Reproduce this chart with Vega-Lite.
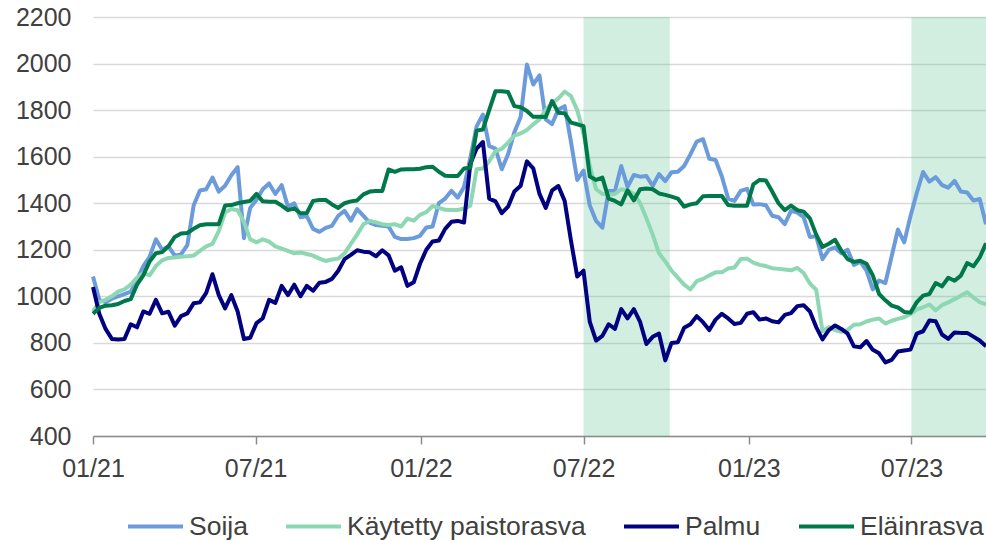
{
  "$schema": "https://vega.github.io/schema/vega-lite/v6.json",
  "width": 893,
  "height": 419,
  "autosize": {"type": "none"},
  "padding": {"left": 93, "top": 17, "right": 0, "bottom": 105},
  "background": "white",
  "config": {
    "view": {"stroke": null},
    "font": "Liberation Sans",
    "axis": {"labelFont": "Liberation Sans", "labelColor": "#404040", "labelFontSize": 25, "title": null},
    "legend": {"labelFont": "Liberation Sans"}
  },
  "datasets": {
    "shade": [
      {"start": "2022-07-01", "end": "2022-10-05"},
      {"start": "2023-07-01", "end": "2023-09-22"}
    ],
    "prices": [
      {"pvm":"2021-01-01","Soija":1085,"Käytetty paistorasva":935,"Palmu":1040,"Eläinrasva":925},
      {"pvm":"2021-01-08","Soija":985,"Käytetty paistorasva":975,"Palmu":925,"Eläinrasva":950},
      {"pvm":"2021-01-15","Soija":975,"Käytetty paistorasva":985,"Palmu":860,"Eläinrasva":960},
      {"pvm":"2021-01-22","Soija":990,"Käytetty paistorasva":1000,"Palmu":817,"Eläinrasva":962},
      {"pvm":"2021-01-29","Soija":1000,"Käytetty paistorasva":1020,"Palmu":815,"Eläinrasva":967},
      {"pvm":"2021-02-05","Soija":1010,"Käytetty paistorasva":1030,"Palmu":817,"Eläinrasva":980},
      {"pvm":"2021-02-12","Soija":1020,"Käytetty paistorasva":1050,"Palmu":880,"Eläinrasva":988},
      {"pvm":"2021-02-19","Soija":1070,"Käytetty paistorasva":1080,"Palmu":867,"Eläinrasva":1050},
      {"pvm":"2021-02-26","Soija":1130,"Käytetty paistorasva":1100,"Palmu":935,"Eläinrasva":1090},
      {"pvm":"2021-03-05","Soija":1170,"Käytetty paistorasva":1090,"Palmu":925,"Eläinrasva":1150},
      {"pvm":"2021-03-12","Soija":1245,"Käytetty paistorasva":1130,"Palmu":985,"Eläinrasva":1185},
      {"pvm":"2021-03-19","Soija":1200,"Käytetty paistorasva":1155,"Palmu":927,"Eläinrasva":1190},
      {"pvm":"2021-03-26","Soija":1215,"Käytetty paistorasva":1165,"Palmu":934,"Eläinrasva":1215},
      {"pvm":"2021-04-02","Soija":1175,"Käytetty paistorasva":1167,"Palmu":874,"Eläinrasva":1255},
      {"pvm":"2021-04-09","Soija":1180,"Käytetty paistorasva":1170,"Palmu":915,"Eläinrasva":1270},
      {"pvm":"2021-04-16","Soija":1220,"Käytetty paistorasva":1172,"Palmu":927,"Eläinrasva":1272},
      {"pvm":"2021-04-23","Soija":1390,"Käytetty paistorasva":1175,"Palmu":970,"Eläinrasva":1290},
      {"pvm":"2021-04-30","Soija":1455,"Käytetty paistorasva":1195,"Palmu":974,"Eläinrasva":1305},
      {"pvm":"2021-05-07","Soija":1460,"Käytetty paistorasva":1215,"Palmu":1015,"Eläinrasva":1310},
      {"pvm":"2021-05-14","Soija":1510,"Käytetty paistorasva":1225,"Palmu":1095,"Eläinrasva":1310},
      {"pvm":"2021-05-21","Soija":1450,"Käytetty paistorasva":1280,"Palmu":1005,"Eläinrasva":1310},
      {"pvm":"2021-05-28","Soija":1475,"Käytetty paistorasva":1360,"Palmu":948,"Eläinrasva":1390},
      {"pvm":"2021-06-04","Soija":1520,"Käytetty paistorasva":1375,"Palmu":1005,"Eläinrasva":1392},
      {"pvm":"2021-06-11","Soija":1555,"Käytetty paistorasva":1370,"Palmu":935,"Eläinrasva":1400},
      {"pvm":"2021-06-18","Soija":1250,"Käytetty paistorasva":1320,"Palmu":817,"Eläinrasva":1405},
      {"pvm":"2021-06-25","Soija":1380,"Käytetty paistorasva":1245,"Palmu":822,"Eläinrasva":1410},
      {"pvm":"2021-07-02","Soija":1415,"Käytetty paistorasva":1232,"Palmu":885,"Eläinrasva":1440},
      {"pvm":"2021-07-09","Soija":1460,"Käytetty paistorasva":1245,"Palmu":906,"Eläinrasva":1408},
      {"pvm":"2021-07-16","Soija":1485,"Käytetty paistorasva":1235,"Palmu":985,"Eläinrasva":1406},
      {"pvm":"2021-07-23","Soija":1440,"Käytetty paistorasva":1215,"Palmu":972,"Eläinrasva":1406},
      {"pvm":"2021-07-30","Soija":1478,"Käytetty paistorasva":1205,"Palmu":1045,"Eläinrasva":1390},
      {"pvm":"2021-08-06","Soija":1385,"Käytetty paistorasva":1195,"Palmu":1005,"Eläinrasva":1370},
      {"pvm":"2021-08-13","Soija":1400,"Käytetty paistorasva":1185,"Palmu":1050,"Eläinrasva":1378},
      {"pvm":"2021-08-20","Soija":1340,"Käytetty paistorasva":1188,"Palmu":1000,"Eläinrasva":1357},
      {"pvm":"2021-08-27","Soija":1345,"Käytetty paistorasva":1182,"Palmu":1045,"Eläinrasva":1358},
      {"pvm":"2021-09-03","Soija":1290,"Käytetty paistorasva":1175,"Palmu":1024,"Eläinrasva":1410},
      {"pvm":"2021-09-10","Soija":1277,"Käytetty paistorasva":1162,"Palmu":1058,"Eläinrasva":1414},
      {"pvm":"2021-09-17","Soija":1294,"Käytetty paistorasva":1152,"Palmu":1062,"Eläinrasva":1414},
      {"pvm":"2021-09-24","Soija":1303,"Käytetty paistorasva":1158,"Palmu":1075,"Eläinrasva":1395},
      {"pvm":"2021-10-01","Soija":1346,"Käytetty paistorasva":1162,"Palmu":1110,"Eläinrasva":1380},
      {"pvm":"2021-10-08","Soija":1367,"Käytetty paistorasva":1185,"Palmu":1160,"Eläinrasva":1400},
      {"pvm":"2021-10-15","Soija":1325,"Käytetty paistorasva":1225,"Palmu":1178,"Eläinrasva":1408},
      {"pvm":"2021-10-22","Soija":1375,"Käytetty paistorasva":1265,"Palmu":1198,"Eläinrasva":1412},
      {"pvm":"2021-10-29","Soija":1346,"Käytetty paistorasva":1310,"Palmu":1192,"Eläinrasva":1438},
      {"pvm":"2021-11-05","Soija":1317,"Käytetty paistorasva":1324,"Palmu":1189,"Eläinrasva":1450},
      {"pvm":"2021-11-12","Soija":1306,"Käytetty paistorasva":1318,"Palmu":1172,"Eläinrasva":1452},
      {"pvm":"2021-11-19","Soija":1303,"Käytetty paistorasva":1310,"Palmu":1198,"Eläinrasva":1453},
      {"pvm":"2021-11-26","Soija":1300,"Käytetty paistorasva":1306,"Palmu":1176,"Eläinrasva":1545},
      {"pvm":"2021-12-03","Soija":1255,"Käytetty paistorasva":1310,"Palmu":1110,"Eläinrasva":1535},
      {"pvm":"2021-12-10","Soija":1246,"Käytetty paistorasva":1300,"Palmu":1125,"Eläinrasva":1545},
      {"pvm":"2021-12-17","Soija":1246,"Käytetty paistorasva":1334,"Palmu":1045,"Eläinrasva":1546},
      {"pvm":"2021-12-24","Soija":1250,"Käytetty paistorasva":1325,"Palmu":1060,"Eläinrasva":1546},
      {"pvm":"2021-12-31","Soija":1260,"Käytetty paistorasva":1350,"Palmu":1140,"Eläinrasva":1548},
      {"pvm":"2022-01-07","Soija":1296,"Käytetty paistorasva":1362,"Palmu":1200,"Eläinrasva":1555},
      {"pvm":"2022-01-14","Soija":1300,"Käytetty paistorasva":1388,"Palmu":1236,"Eläinrasva":1557},
      {"pvm":"2022-01-21","Soija":1400,"Käytetty paistorasva":1380,"Palmu":1240,"Eläinrasva":1535},
      {"pvm":"2022-01-28","Soija":1420,"Käytetty paistorasva":1372,"Palmu":1290,"Eläinrasva":1518},
      {"pvm":"2022-02-04","Soija":1453,"Käytetty paistorasva":1371,"Palmu":1320,"Eläinrasva":1517},
      {"pvm":"2022-02-11","Soija":1424,"Käytetty paistorasva":1371,"Palmu":1324,"Eläinrasva":1517},
      {"pvm":"2022-02-18","Soija":1470,"Käytetty paistorasva":1377,"Palmu":1317,"Eläinrasva":1549},
      {"pvm":"2022-02-25","Soija":1595,"Käytetty paistorasva":1389,"Palmu":1570,"Eläinrasva":1553},
      {"pvm":"2022-03-04","Soija":1730,"Käytetty paistorasva":1546,"Palmu":1635,"Eläinrasva":1712},
      {"pvm":"2022-03-11","Soija":1781,"Käytetty paistorasva":1549,"Palmu":1663,"Eläinrasva":1717},
      {"pvm":"2022-03-18","Soija":1645,"Käytetty paistorasva":1580,"Palmu":1420,"Eläinrasva":1800},
      {"pvm":"2022-03-25","Soija":1635,"Käytetty paistorasva":1624,"Palmu":1408,"Eläinrasva":1881},
      {"pvm":"2022-04-01","Soija":1546,"Käytetty paistorasva":1634,"Palmu":1357,"Eläinrasva":1881},
      {"pvm":"2022-04-08","Soija":1610,"Käytetty paistorasva":1660,"Palmu":1385,"Eläinrasva":1878},
      {"pvm":"2022-04-15","Soija":1705,"Käytetty paistorasva":1690,"Palmu":1450,"Eläinrasva":1817},
      {"pvm":"2022-04-22","Soija":1770,"Käytetty paistorasva":1700,"Palmu":1475,"Eläinrasva":1812},
      {"pvm":"2022-04-29","Soija":1996,"Käytetty paistorasva":1715,"Palmu":1580,"Eläinrasva":1796},
      {"pvm":"2022-05-06","Soija":1910,"Käytetty paistorasva":1739,"Palmu":1550,"Eläinrasva":1771},
      {"pvm":"2022-05-13","Soija":1949,"Käytetty paistorasva":1760,"Palmu":1440,"Eläinrasva":1771},
      {"pvm":"2022-05-20","Soija":1760,"Käytetty paistorasva":1800,"Palmu":1380,"Eläinrasva":1770},
      {"pvm":"2022-05-27","Soija":1740,"Käytetty paistorasva":1830,"Palmu":1455,"Eläinrasva":1839},
      {"pvm":"2022-06-03","Soija":1803,"Käytetty paistorasva":1850,"Palmu":1474,"Eläinrasva":1789},
      {"pvm":"2022-06-10","Soija":1817,"Käytetty paistorasva":1880,"Palmu":1410,"Eläinrasva":1786},
      {"pvm":"2022-06-17","Soija":1665,"Käytetty paistorasva":1860,"Palmu":1240,"Eläinrasva":1746},
      {"pvm":"2022-06-24","Soija":1500,"Käytetty paistorasva":1800,"Palmu":1085,"Eläinrasva":1739},
      {"pvm":"2022-07-01","Soija":1540,"Käytetty paistorasva":1700,"Palmu":1110,"Eläinrasva":1731},
      {"pvm":"2022-07-08","Soija":1390,"Käytetty paistorasva":1560,"Palmu":890,"Eläinrasva":1515},
      {"pvm":"2022-07-15","Soija":1324,"Käytetty paistorasva":1460,"Palmu":810,"Eläinrasva":1500},
      {"pvm":"2022-07-22","Soija":1295,"Käytetty paistorasva":1440,"Palmu":830,"Eläinrasva":1510},
      {"pvm":"2022-07-29","Soija":1453,"Käytetty paistorasva":1439,"Palmu":880,"Eläinrasva":1420},
      {"pvm":"2022-08-05","Soija":1453,"Käytetty paistorasva":1440,"Palmu":860,"Eläinrasva":1410},
      {"pvm":"2022-08-12","Soija":1560,"Käytetty paistorasva":1460,"Palmu":945,"Eläinrasva":1395},
      {"pvm":"2022-08-19","Soija":1470,"Käytetty paistorasva":1455,"Palmu":905,"Eläinrasva":1455},
      {"pvm":"2022-08-26","Soija":1521,"Käytetty paistorasva":1440,"Palmu":945,"Eläinrasva":1412},
      {"pvm":"2022-09-02","Soija":1514,"Käytetty paistorasva":1400,"Palmu":890,"Eläinrasva":1460},
      {"pvm":"2022-09-09","Soija":1517,"Käytetty paistorasva":1335,"Palmu":795,"Eläinrasva":1463},
      {"pvm":"2022-09-16","Soija":1474,"Käytetty paistorasva":1265,"Palmu":826,"Eläinrasva":1460},
      {"pvm":"2022-09-23","Soija":1525,"Käytetty paistorasva":1185,"Palmu":840,"Eläinrasva":1442},
      {"pvm":"2022-09-30","Soija":1495,"Käytetty paistorasva":1150,"Palmu":725,"Eläinrasva":1436},
      {"pvm":"2022-10-07","Soija":1533,"Käytetty paistorasva":1110,"Palmu":800,"Eläinrasva":1428},
      {"pvm":"2022-10-14","Soija":1535,"Käytetty paistorasva":1080,"Palmu":803,"Eläinrasva":1420},
      {"pvm":"2022-10-21","Soija":1560,"Käytetty paistorasva":1050,"Palmu":865,"Eläinrasva":1385},
      {"pvm":"2022-10-28","Soija":1610,"Käytetty paistorasva":1030,"Palmu":880,"Eläinrasva":1395},
      {"pvm":"2022-11-04","Soija":1665,"Käytetty paistorasva":1065,"Palmu":915,"Eläinrasva":1400},
      {"pvm":"2022-11-11","Soija":1675,"Käytetty paistorasva":1075,"Palmu":889,"Eläinrasva":1430},
      {"pvm":"2022-11-18","Soija":1591,"Käytetty paistorasva":1090,"Palmu":855,"Eläinrasva":1431},
      {"pvm":"2022-11-25","Soija":1586,"Käytetty paistorasva":1103,"Palmu":900,"Eläinrasva":1431},
      {"pvm":"2022-12-02","Soija":1515,"Käytetty paistorasva":1103,"Palmu":925,"Eläinrasva":1431},
      {"pvm":"2022-12-09","Soija":1420,"Käytetty paistorasva":1120,"Palmu":905,"Eläinrasva":1392},
      {"pvm":"2022-12-16","Soija":1410,"Käytetty paistorasva":1124,"Palmu":881,"Eläinrasva":1389},
      {"pvm":"2022-12-23","Soija":1453,"Käytetty paistorasva":1160,"Palmu":886,"Eläinrasva":1389},
      {"pvm":"2022-12-30","Soija":1462,"Käytetty paistorasva":1162,"Palmu":925,"Eläinrasva":1389},
      {"pvm":"2023-01-06","Soija":1395,"Käytetty paistorasva":1145,"Palmu":932,"Eläinrasva":1481},
      {"pvm":"2023-01-13","Soija":1396,"Käytetty paistorasva":1135,"Palmu":900,"Eläinrasva":1500},
      {"pvm":"2023-01-20","Soija":1391,"Käytetty paistorasva":1130,"Palmu":905,"Eläinrasva":1498},
      {"pvm":"2023-01-27","Soija":1346,"Käytetty paistorasva":1121,"Palmu":893,"Eläinrasva":1450},
      {"pvm":"2023-02-03","Soija":1340,"Käytetty paistorasva":1118,"Palmu":888,"Eläinrasva":1400},
      {"pvm":"2023-02-10","Soija":1310,"Käytetty paistorasva":1115,"Palmu":920,"Eläinrasva":1370},
      {"pvm":"2023-02-17","Soija":1367,"Käytetty paistorasva":1112,"Palmu":928,"Eläinrasva":1390},
      {"pvm":"2023-02-24","Soija":1360,"Käytetty paistorasva":1122,"Palmu":958,"Eläinrasva":1370},
      {"pvm":"2023-03-03","Soija":1340,"Käytetty paistorasva":1100,"Palmu":962,"Eläinrasva":1364},
      {"pvm":"2023-03-10","Soija":1255,"Käytetty paistorasva":1055,"Palmu":935,"Eläinrasva":1335},
      {"pvm":"2023-03-17","Soija":1258,"Käytetty paistorasva":1028,"Palmu":868,"Eläinrasva":1265},
      {"pvm":"2023-03-24","Soija":1160,"Käytetty paistorasva":850,"Palmu":815,"Eläinrasva":1212},
      {"pvm":"2023-03-31","Soija":1200,"Käytetty paistorasva":868,"Palmu":855,"Eläinrasva":1226},
      {"pvm":"2023-04-07","Soija":1210,"Käytetty paistorasva":855,"Palmu":875,"Eläinrasva":1243},
      {"pvm":"2023-04-14","Soija":1185,"Käytetty paistorasva":848,"Palmu":860,"Eläinrasva":1196},
      {"pvm":"2023-04-21","Soija":1200,"Käytetty paistorasva":855,"Palmu":840,"Eläinrasva":1160},
      {"pvm":"2023-04-28","Soija":1135,"Käytetty paistorasva":878,"Palmu":785,"Eläinrasva":1148},
      {"pvm":"2023-05-05","Soija":1149,"Käytetty paistorasva":880,"Palmu":781,"Eläinrasva":1153},
      {"pvm":"2023-05-12","Soija":1110,"Käytetty paistorasva":892,"Palmu":808,"Eläinrasva":1140},
      {"pvm":"2023-05-19","Soija":1030,"Käytetty paistorasva":900,"Palmu":770,"Eläinrasva":1090},
      {"pvm":"2023-05-26","Soija":1068,"Käytetty paistorasva":905,"Palmu":755,"Eläinrasva":1010},
      {"pvm":"2023-06-02","Soija":1057,"Käytetty paistorasva":883,"Palmu":716,"Eläinrasva":983},
      {"pvm":"2023-06-09","Soija":1172,"Käytetty paistorasva":895,"Palmu":727,"Eläinrasva":960},
      {"pvm":"2023-06-16","Soija":1287,"Käytetty paistorasva":903,"Palmu":763,"Eläinrasva":952},
      {"pvm":"2023-06-23","Soija":1232,"Käytetty paistorasva":910,"Palmu":767,"Eläinrasva":933},
      {"pvm":"2023-06-30","Soija":1345,"Käytetty paistorasva":924,"Palmu":771,"Eläinrasva":930},
      {"pvm":"2023-07-07","Soija":1445,"Käytetty paistorasva":944,"Palmu":840,"Eläinrasva":975},
      {"pvm":"2023-07-14","Soija":1534,"Käytetty paistorasva":953,"Palmu":850,"Eläinrasva":1003},
      {"pvm":"2023-07-21","Soija":1493,"Käytetty paistorasva":965,"Palmu":896,"Eläinrasva":1010},
      {"pvm":"2023-07-28","Soija":1512,"Käytetty paistorasva":940,"Palmu":893,"Eläinrasva":1057},
      {"pvm":"2023-08-04","Soija":1478,"Käytetty paistorasva":962,"Palmu":836,"Eläinrasva":1043},
      {"pvm":"2023-08-11","Soija":1467,"Käytetty paistorasva":974,"Palmu":817,"Eläinrasva":1080},
      {"pvm":"2023-08-18","Soija":1496,"Käytetty paistorasva":988,"Palmu":845,"Eläinrasva":1067},
      {"pvm":"2023-08-25","Soija":1450,"Käytetty paistorasva":1003,"Palmu":843,"Eläinrasva":1089},
      {"pvm":"2023-09-01","Soija":1446,"Käytetty paistorasva":1017,"Palmu":843,"Eläinrasva":1143},
      {"pvm":"2023-09-08","Soija":1412,"Käytetty paistorasva":995,"Palmu":827,"Eläinrasva":1129},
      {"pvm":"2023-09-15","Soija":1418,"Käytetty paistorasva":975,"Palmu":810,"Eläinrasva":1167},
      {"pvm":"2023-09-22","Soija":1310,"Käytetty paistorasva":965,"Palmu":786,"Eläinrasva":1228}
    ]
  },
  "layer": [
    {
      "data": {"name": "shade", "format": {"parse": {"start": "date:'%Y-%m-%d'", "end": "date:'%Y-%m-%d'"}}},
      "mark": {"type": "rect", "color": "#4DBF8A", "opacity": 0.26},
      "encoding": {
        "x": {"field": "start", "type": "temporal"},
        "x2": {"field": "end"}
      }
    },
    {
      "data": {"name": "prices", "format": {"parse": {"pvm": "date:'%Y-%m-%d'"}}},
      "transform": [
        {"fold": ["Soija", "Käytetty paistorasva", "Palmu", "Eläinrasva"], "as": ["sarja", "hinta"]}
      ],
      "mark": {"type": "line", "strokeWidth": 4, "strokeJoin": "round"},
      "encoding": {
        "x": {
          "field": "pvm",
          "type": "temporal",
          "scale": {"domain": [{"year": 2021, "month": 1, "date": 1}, {"year": 2023, "month": 9, "date": 22}], "nice": false},
          "axis": {
            "format": "%m/%y",
            "tickCount": {"interval": "month", "step": 6},
            "grid": false,
            "domainColor": "#8C8C8C",
            "domainWidth": 1.5,
            "tickColor": "#8C8C8C",
            "tickWidth": 1.5,
            "tickSize": 8,
            "labelPadding": 12,
            "labelFlush": false,
            "labelOverlap": false
          }
        },
        "y": {
          "field": "hinta",
          "type": "quantitative",
          "scale": {"domain": [400, 2200], "nice": false, "zero": false},
          "axis": {
            "values": [400, 600, 800, 1000, 1200, 1400, 1600, 1800, 2000, 2200],
            "format": "d",
            "grid": true,
            "gridColor": "#D9D9D9",
            "gridWidth": 1.3,
            "domain": false,
            "ticks": false,
            "labelPadding": 22
          }
        },
        "color": {
          "field": "sarja",
          "type": "nominal",
          "scale": {
            "domain": ["Soija", "Käytetty paistorasva", "Palmu", "Eläinrasva"],
            "range": ["#6B9BDB", "#8DD8B2", "#000080", "#00784A"]
          },
          "legend": {
            "title": null,
            "orient": "none",
            "direction": "horizontal",
            "legendX": 33,
            "legendY": 480,
            "symbolType": "stroke",
            "symbolSize": 3025,
            "symbolStrokeWidth": 4,
            "labelFontSize": 26.5,
            "labelColor": "#404040",
            "labelLimit": 400,
            "labelOffset": 4,
            "columnPadding": 30
          }
        }
      }
    }
  ]
}
